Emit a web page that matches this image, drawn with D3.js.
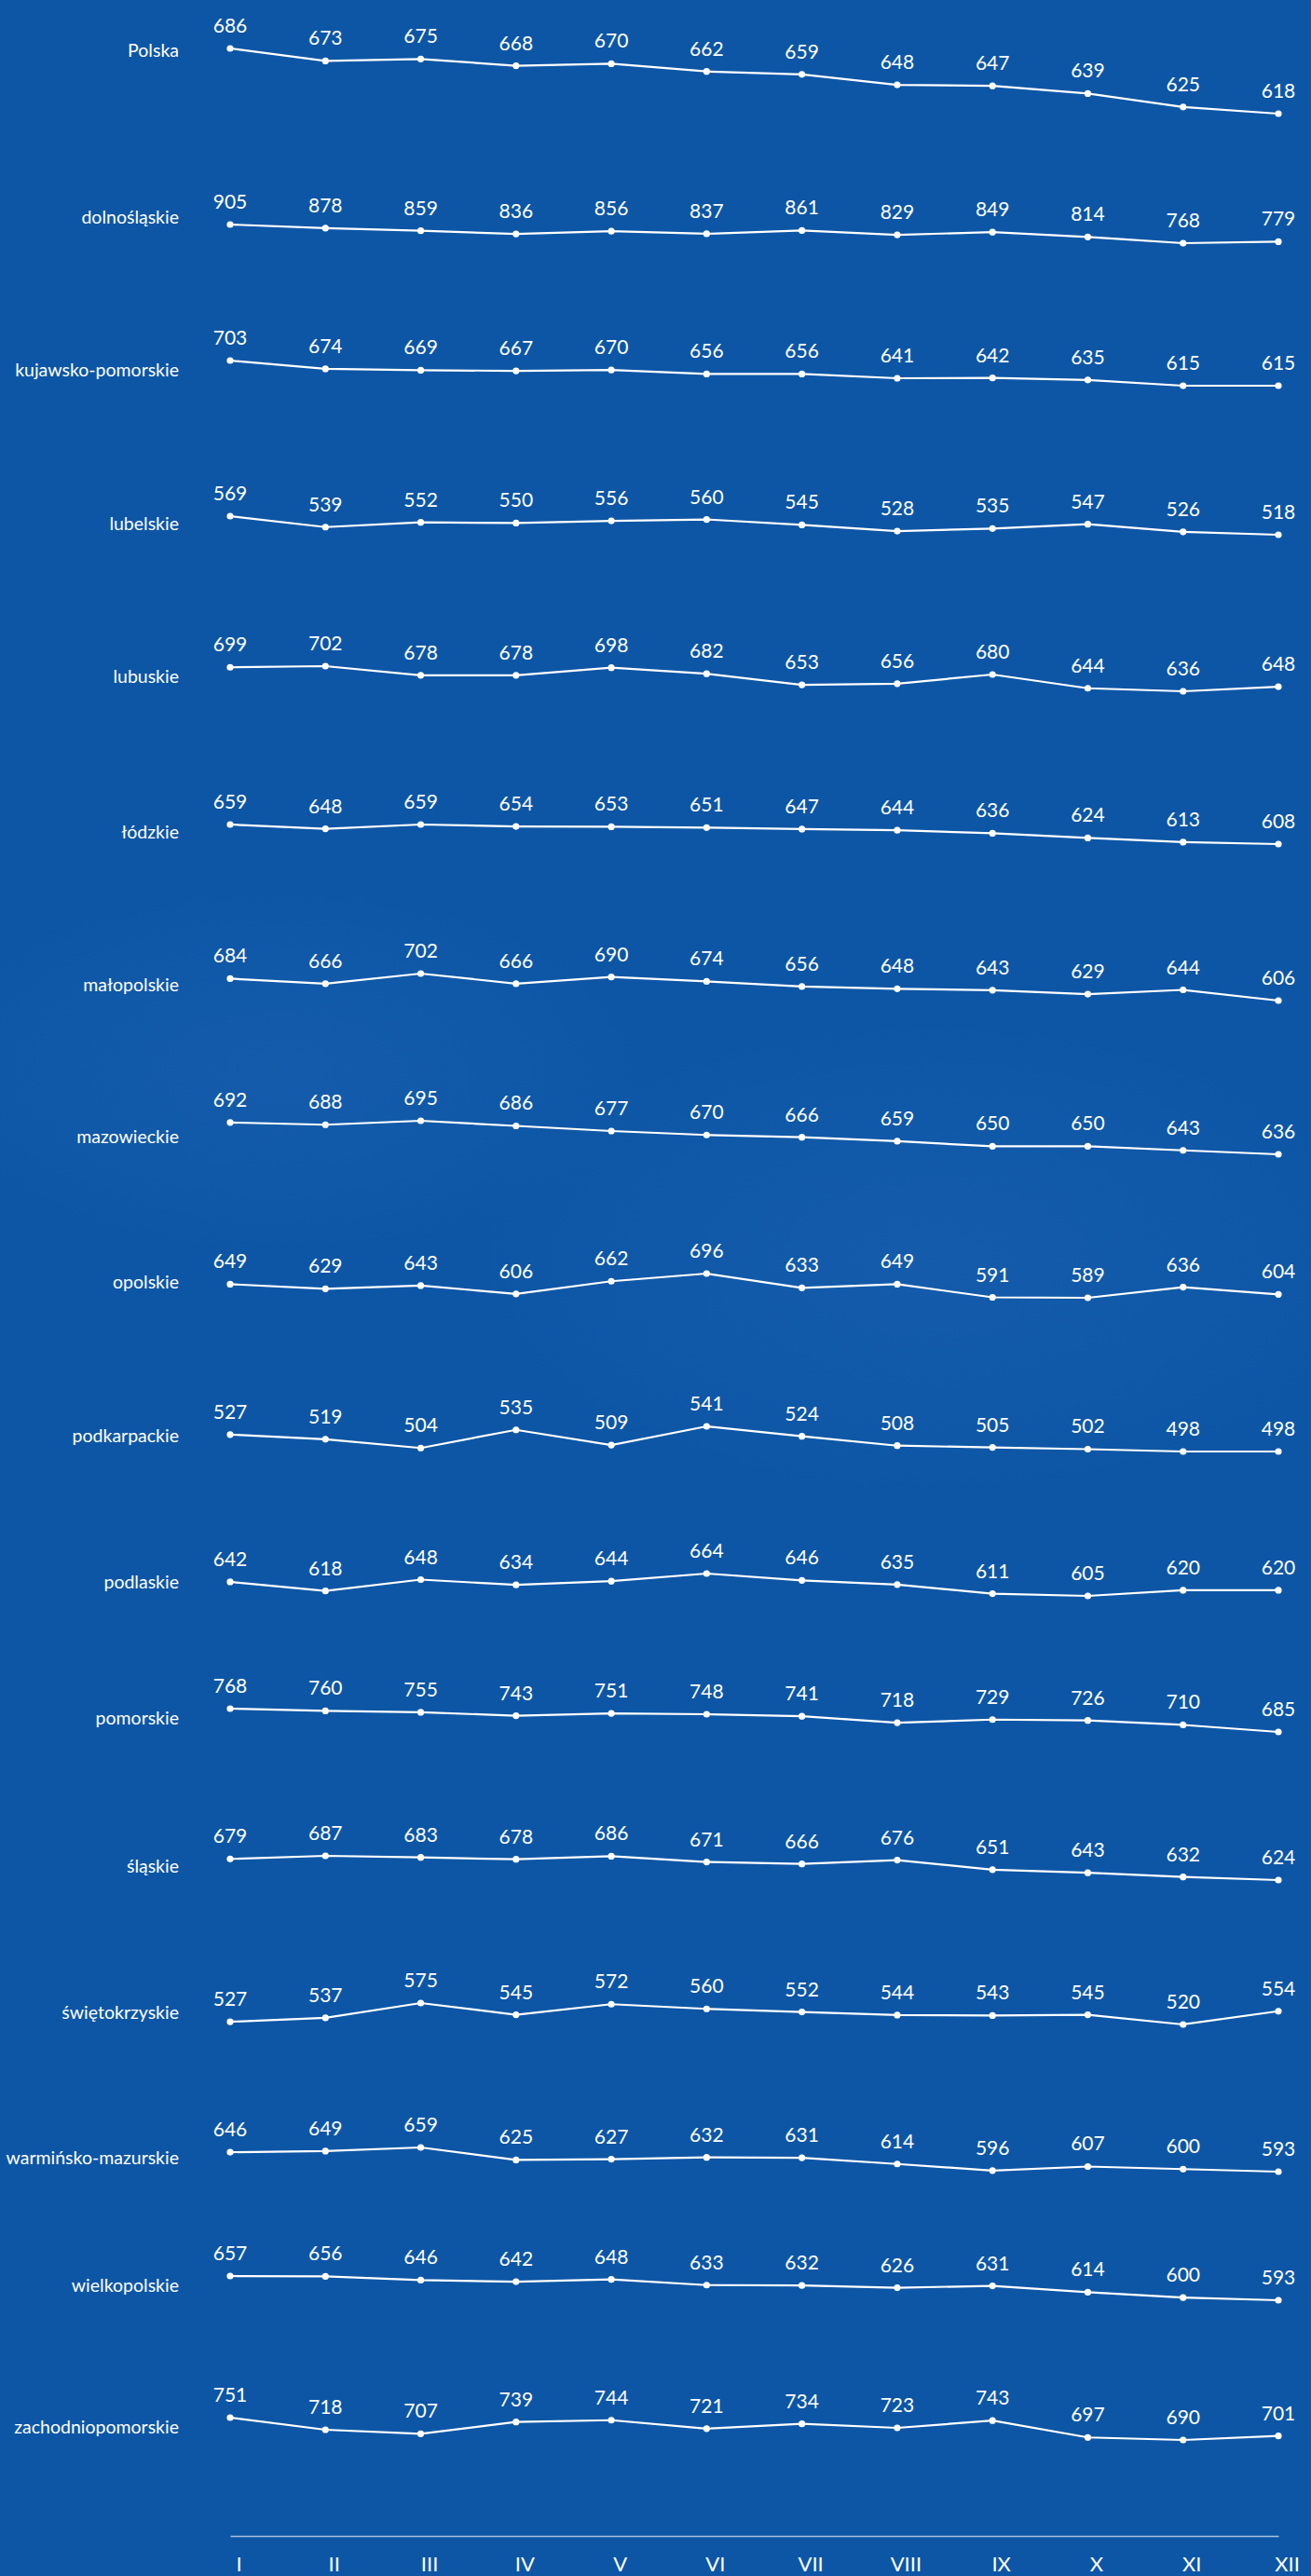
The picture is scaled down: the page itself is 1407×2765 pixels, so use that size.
<!DOCTYPE html>
<html>
<head>
<meta charset="utf-8">
<script src="https://cdn.jsdelivr.net/npm/d3@7"></script>
<style>
  html, body { margin: 0; padding: 0; background: #0d56a6; }
  svg { display: block; }
  .row-label { font-family: Lato, "Open Sans", sans-serif; font-size: 19.5px; fill: #fff; }
  .value { font-family: Lato, "Open Sans", sans-serif; font-size: 21px; fill: #fff; }
  .month { font-family: Lato, "Open Sans", sans-serif; font-size: 22px; fill: #fff; }
</style>
</head>
<body>
<svg id="chart"></svg>
<script>
const width = 1407
const height = 2765

const months = ["I", "II", "III", "IV", "V", "VI", "VII", "VIII", "IX", "X", "XI", "XII"]

const regions = [
  "Polska", "dolnośląskie", "kujawsko-pomorskie", "lubelskie", "lubuskie",
  "łódzkie", "małopolskie", "mazowieckie", "opolskie", "podkarpackie",
  "podlaskie", "pomorskie", "śląskie", "świętokrzyskie",
  "warmińsko-mazurskie", "wielkopolskie", "zachodniopomorskie",
]

// monthly values per region
const polska = [686, 673, 675, 668, 670, 662, 659, 648, 647, 639, 625, 618]
const dolnoslaskie = [905, 878, 859, 836, 856, 837, 861, 829, 849, 814, 768, 779]
const kujawskoPomorskie = [703, 674, 669, 667, 670, 656, 656, 641, 642, 635, 615, 615]
const lubelskie = [569, 539, 552, 550, 556, 560, 545, 528, 535, 547, 526, 518]
const lubuskie = [699, 702, 678, 678, 698, 682, 653, 656, 680, 644, 636, 648]
const lodzkie = [659, 648, 659, 654, 653, 651, 647, 644, 636, 624, 613, 608]
const malopolskie = [684, 666, 702, 666, 690, 674, 656, 648, 643, 629, 644, 606]
const mazowieckie = [692, 688, 695, 686, 677, 670, 666, 659, 650, 650, 643, 636]
const opolskie = [649, 629, 643, 606, 662, 696, 633, 649, 591, 589, 636, 604]
const podkarpackie = [527, 519, 504, 535, 509, 541, 524, 508, 505, 502, 498, 498]
const podlaskie = [642, 618, 648, 634, 644, 664, 646, 635, 611, 605, 620, 620]
const pomorskie = [768, 760, 755, 743, 751, 748, 741, 718, 729, 726, 710, 685]
const slaskie = [679, 687, 683, 678, 686, 671, 666, 676, 651, 643, 632, 624]
const swietokrzyskie = [527, 537, 575, 545, 572, 560, 552, 544, 543, 545, 520, 554]
const warminskoMazurskie = [646, 649, 659, 625, 627, 632, 631, 614, 596, 607, 600, 593]
const wielkopolskie = [657, 656, 646, 642, 648, 633, 632, 626, 631, 614, 600, 593]
const zachodniopomorskie = [751, 718, 707, 739, 744, 721, 734, 723, 743, 697, 690, 701]

const series = [
  polska, dolnoslaskie, kujawskoPomorskie, lubelskie, lubuskie, lodzkie,
  malopolskie, mazowieckie, opolskie, podkarpackie, podlaskie, pomorskie,
  slaskie, swietokrzyskie, warminskoMazurskie, wielkopolskie, zachodniopomorskie,
]

// layout: each mini chart gets its own vertical pixel span (max value -> top, min -> bottom)
const rowTop = [52, 241, 387, 554, 715, 885, 1045, 1203, 1367, 1531, 1689, 1834, 1992, 2150, 2305, 2443, 2595]
const rowBottom = [122, 261, 414, 574, 742, 906, 1074, 1239, 1393, 1558, 1713, 1859, 2018, 2173, 2331, 2469, 2619]
const labelY = [61, 240, 404, 569, 733, 900, 1064, 1227, 1383, 1548, 1705, 1851, 2010, 2167, 2323, 2460, 2612]

const svg = d3.select("#chart").attr("width", width).attr("height", height)

// faint background texture
const defs = svg.append("defs")
const glow = defs.append("radialGradient").attr("id", "glow")
glow.append("stop").attr("offset", "0%").attr("stop-color", "#2f72bd").attr("stop-opacity", 0.22)
glow.append("stop").attr("offset", "100%").attr("stop-color", "#2f72bd").attr("stop-opacity", 0)

svg.append("rect").attr("width", width).attr("height", height).attr("fill", "#0d56a6")
svg.append("ellipse").attr("cx", 1000).attr("cy", 1350).attr("rx", 500).attr("ry", 260).attr("fill", "url(#glow)")
svg.append("ellipse").attr("cx", 300).attr("cy", 1150).attr("rx", 400).attr("ry", 200).attr("fill", "url(#glow)")

const x = d3.scalePoint().domain(months).range([247, 1372])

const line = d3.line()

series.forEach((vals, i) => {
  const y = d3.scaleLinear().domain(d3.extent(vals)).range([rowBottom[i], rowTop[i]])
  const g = svg.append("g").attr("class", "row")

  g.append("text")
    .attr("class", "row-label")
    .attr("x", 192)
    .attr("y", labelY[i])
    .attr("text-anchor", "end")
    .text(regions[i])

  g.append("path")
    .attr("fill", "none")
    .attr("stroke", "#fff")
    .attr("stroke-width", 2.2)
    .attr("d", line.x((d, j) => x(months[j])).y((d) => y(d))(vals))

  g.selectAll("circle")
    .data(vals)
    .enter()
    .append("circle")
    .attr("cx", (d, j) => x(months[j]))
    .attr("cy", (d) => y(d))
    .attr("r", 3.6)
    .attr("fill", "#fff")

  g.selectAll("text.value")
    .data(vals)
    .enter()
    .append("text")
    .attr("class", "value")
    .attr("x", (d, j) => x(months[j]))
    .attr("y", (d) => y(d) - 17)
    .attr("text-anchor", "middle")
    .text((d) => d)
})

// month axis at the bottom
const axis = svg.append("g")
  .attr("transform", "translate(0,2722)")
  .call(d3.axisBottom(x).tickSize(0).tickSizeOuter(0))

axis.select(".domain").attr("stroke", "#a9c1e0").attr("stroke-width", 1.5)
axis.selectAll(".tick text")
  .attr("class", "month")
  .attr("font-family", null)
  .attr("font-size", null)
  .attr("fill", "#fff")
  .attr("dy", null)
  .attr("x", 9)
  .attr("y", 38)
</script>
</body>
</html>
